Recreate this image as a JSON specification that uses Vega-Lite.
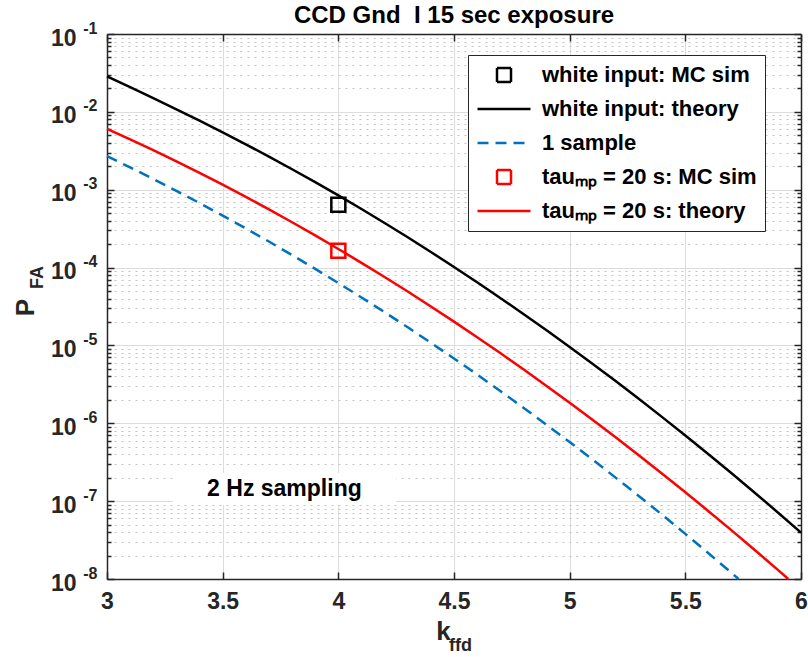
{
  "$schema": "https://vega.github.io/schema/vega-lite/v6.json",
  "width": 694,
  "height": 545,
  "autosize": {"type": "none"},
  "padding": {"left": 107, "top": 34, "right": 7, "bottom": 78},
  "background": "white",
  "config": {
    "view": {"stroke": null},
    "font": "Liberation Sans",
    "axis": {"labelFont": "Liberation Sans", "titleFont": "Liberation Sans", "domainColor": "#262626", "domainWidth": 1.5, "tickColor": "#262626", "tickWidth": 1.5}
  },
  "title": {"text": "CCD Gnd \u00a0I 15 sec exposure", "font": "Liberation Sans", "fontSize": 24, "fontWeight": "bold", "color": "black", "offset": -8, "anchor": "middle"},
  "datasets": {
    "curves": [
      {"k": 3.0, "p": 2.85e-2, "s": "white input: theory"},
      {"k": 3.1, "p": 2.08e-2, "s": "white input: theory"},
      {"k": 3.2, "p": 1.50e-2, "s": "white input: theory"},
      {"k": 3.3, "p": 1.08e-2, "s": "white input: theory"},
      {"k": 3.4, "p": 7.72e-3, "s": "white input: theory"},
      {"k": 3.5, "p": 5.46e-3, "s": "white input: theory"},
      {"k": 3.6, "p": 3.83e-3, "s": "white input: theory"},
      {"k": 3.7, "p": 2.66e-3, "s": "white input: theory"},
      {"k": 3.8, "p": 1.832e-3, "s": "white input: theory"},
      {"k": 3.9, "p": 1.250e-3, "s": "white input: theory"},
      {"k": 4.0, "p": 8.45e-4, "s": "white input: theory"},
      {"k": 4.1, "p": 5.65e-4, "s": "white input: theory"},
      {"k": 4.2, "p": 3.74e-4, "s": "white input: theory"},
      {"k": 4.3, "p": 2.45e-4, "s": "white input: theory"},
      {"k": 4.4, "p": 1.585e-4, "s": "white input: theory"},
      {"k": 4.5, "p": 1.019e-4, "s": "white input: theory"},
      {"k": 4.6, "p": 6.49e-5, "s": "white input: theory"},
      {"k": 4.7, "p": 4.07e-5, "s": "white input: theory"},
      {"k": 4.8, "p": 2.54e-5, "s": "white input: theory"},
      {"k": 4.9, "p": 1.563e-5, "s": "white input: theory"},
      {"k": 5.0, "p": 9.55e-6, "s": "white input: theory"},
      {"k": 5.1, "p": 5.77e-6, "s": "white input: theory"},
      {"k": 5.2, "p": 3.46e-6, "s": "white input: theory"},
      {"k": 5.3, "p": 2.05e-6, "s": "white input: theory"},
      {"k": 5.4, "p": 1.20e-6, "s": "white input: theory"},
      {"k": 5.5, "p": 6.97e-7, "s": "white input: theory"},
      {"k": 5.6, "p": 4.00e-7, "s": "white input: theory"},
      {"k": 5.7, "p": 2.28e-7, "s": "white input: theory"},
      {"k": 5.8, "p": 1.283e-7, "s": "white input: theory"},
      {"k": 5.9, "p": 7.16e-8, "s": "white input: theory"},
      {"k": 6.0, "p": 3.94e-8, "s": "white input: theory"},

      {"k": 3.0, "p": 2.70e-3, "s": "1 sample"},
      {"k": 3.1, "p": 1.935e-3, "s": "1 sample"},
      {"k": 3.2, "p": 1.374e-3, "s": "1 sample"},
      {"k": 3.3, "p": 9.67e-4, "s": "1 sample"},
      {"k": 3.4, "p": 6.74e-4, "s": "1 sample"},
      {"k": 3.5, "p": 4.65e-4, "s": "1 sample"},
      {"k": 3.6, "p": 3.18e-4, "s": "1 sample"},
      {"k": 3.7, "p": 2.16e-4, "s": "1 sample"},
      {"k": 3.8, "p": 1.447e-4, "s": "1 sample"},
      {"k": 3.9, "p": 9.62e-5, "s": "1 sample"},
      {"k": 4.0, "p": 6.33e-5, "s": "1 sample"},
      {"k": 4.1, "p": 4.13e-5, "s": "1 sample"},
      {"k": 4.2, "p": 2.67e-5, "s": "1 sample"},
      {"k": 4.3, "p": 1.708e-5, "s": "1 sample"},
      {"k": 4.4, "p": 1.082e-5, "s": "1 sample"},
      {"k": 4.5, "p": 6.80e-6, "s": "1 sample"},
      {"k": 4.6, "p": 4.22e-6, "s": "1 sample"},
      {"k": 4.7, "p": 2.60e-6, "s": "1 sample"},
      {"k": 4.8, "p": 1.587e-6, "s": "1 sample"},
      {"k": 4.9, "p": 9.58e-7, "s": "1 sample"},
      {"k": 5.0, "p": 5.73e-7, "s": "1 sample"},
      {"k": 5.1, "p": 3.40e-7, "s": "1 sample"},
      {"k": 5.2, "p": 1.99e-7, "s": "1 sample"},
      {"k": 5.3, "p": 1.158e-7, "s": "1 sample"},
      {"k": 5.4, "p": 6.67e-8, "s": "1 sample"},
      {"k": 5.5, "p": 3.80e-8, "s": "1 sample"},
      {"k": 5.6, "p": 2.14e-8, "s": "1 sample"},
      {"k": 5.7, "p": 1.198e-8, "s": "1 sample"},
      {"k": 5.73, "p": 1.0e-8, "s": "1 sample"},

      {"k": 3.0, "p": 6.04e-3, "s": "tauₘₚ = 20 s: theory"},
      {"k": 3.1, "p": 4.44e-3, "s": "tauₘₚ = 20 s: theory"},
      {"k": 3.2, "p": 3.22e-3, "s": "tauₘₚ = 20 s: theory"},
      {"k": 3.3, "p": 2.31e-3, "s": "tauₘₚ = 20 s: theory"},
      {"k": 3.4, "p": 1.648e-3, "s": "tauₘₚ = 20 s: theory"},
      {"k": 3.5, "p": 1.161e-3, "s": "tauₘₚ = 20 s: theory"},
      {"k": 3.6, "p": 8.09e-4, "s": "tauₘₚ = 20 s: theory"},
      {"k": 3.7, "p": 5.60e-4, "s": "tauₘₚ = 20 s: theory"},
      {"k": 3.8, "p": 3.82e-4, "s": "tauₘₚ = 20 s: theory"},
      {"k": 3.9, "p": 2.59e-4, "s": "tauₘₚ = 20 s: theory"},
      {"k": 4.0, "p": 1.734e-4, "s": "tauₘₚ = 20 s: theory"},
      {"k": 4.1, "p": 1.151e-4, "s": "tauₘₚ = 20 s: theory"},
      {"k": 4.2, "p": 7.57e-5, "s": "tauₘₚ = 20 s: theory"},
      {"k": 4.3, "p": 4.92e-5, "s": "tauₘₚ = 20 s: theory"},
      {"k": 4.4, "p": 3.16e-5, "s": "tauₘₚ = 20 s: theory"},
      {"k": 4.5, "p": 2.02e-5, "s": "tauₘₚ = 20 s: theory"},
      {"k": 4.6, "p": 1.276e-5, "s": "tauₘₚ = 20 s: theory"},
      {"k": 4.7, "p": 7.98e-6, "s": "tauₘₚ = 20 s: theory"},
      {"k": 4.8, "p": 4.93e-6, "s": "tauₘₚ = 20 s: theory"},
      {"k": 4.9, "p": 3.02e-6, "s": "tauₘₚ = 20 s: theory"},
      {"k": 5.0, "p": 1.832e-6, "s": "tauₘₚ = 20 s: theory"},
      {"k": 5.1, "p": 1.102e-6, "s": "tauₘₚ = 20 s: theory"},
      {"k": 5.2, "p": 6.56e-7, "s": "tauₘₚ = 20 s: theory"},
      {"k": 5.3, "p": 3.86e-7, "s": "tauₘₚ = 20 s: theory"},
      {"k": 5.4, "p": 2.25e-7, "s": "tauₘₚ = 20 s: theory"},
      {"k": 5.5, "p": 1.300e-7, "s": "tauₘₚ = 20 s: theory"},
      {"k": 5.6, "p": 7.43e-8, "s": "tauₘₚ = 20 s: theory"},
      {"k": 5.7, "p": 4.21e-8, "s": "tauₘₚ = 20 s: theory"},
      {"k": 5.8, "p": 2.36e-8, "s": "tauₘₚ = 20 s: theory"},
      {"k": 5.9, "p": 1.309e-8, "s": "tauₘₚ = 20 s: theory"},
      {"k": 5.945, "p": 1.0e-8, "s": "tauₘₚ = 20 s: theory"},

      {"k": 4.0, "p": 6.4e-4, "s": "white input: MC sim"},
      {"k": 4.0, "p": 1.65e-4, "s": "tauₘₚ = 20 s: MC sim"}
    ],
    "notes": [
      {"k": 3.767, "p": 1.43e-7, "label": "2 Hz sampling"}
    ]
  },
  "resolve": {"axis": {"x": "independent", "y": "independent"}},
  "layer": [
    {
      "data": {"name": "curves"},
      "transform": [{"filter": {"field": "s", "oneOf": ["white input: theory", "tauₘₚ = 20 s: theory"]}}],
      "mark": {"type": "line", "strokeWidth": 2.5},
      "encoding": {
        "x": {"field": "k", "type": "quantitative", "scale": {"domain": [3, 6], "nice": false, "zero": false},
          "axis": {"orient": "bottom", "values": [3, 3.5, 4, 4.5, 5, 5.5, 6], "format": "~g", "labelFontSize": 23, "labelFontWeight": "bold", "labelColor": "#262626", "labelPadding": 18, "labelFlush": false, "tickSize": -7, "grid": true, "gridColor": "#dcdcdc", "gridWidth": 1,
            "title": "k", "titleFontSize": 26, "titleFontWeight": "bold", "titleColor": "#262626", "titleX": 336, "titleY": 52, "titleAlign": "center", "titleBaseline": "middle"}},
        "y": {"field": "p", "type": "quantitative", "scale": {"type": "log", "domain": [1e-8, 0.1], "nice": false},
          "axis": {"orient": "left", "values": [1e-8, 1e-7, 1e-6, 1e-5, 1e-4, 1e-3, 1e-2, 1e-1], "labelExpr": "'10'", "labelFontSize": 23, "labelFontWeight": "bold", "labelColor": "#262626", "labelPadding": 38, "labelOffset": 4, "labelFlush": false, "labelOverlap": false, "tickSize": -7, "grid": true, "gridColor": "#dcdcdc", "gridWidth": 1,
            "title": "P", "titleFontSize": 26, "titleFontWeight": "bold", "titleColor": "#262626", "titleAngle": 270, "titleX": -82, "titleY": 273, "titleAlign": "center", "titleBaseline": "middle"}},
        "color": {"field": "s", "type": "nominal",
          "scale": {"domain": ["white input: MC sim", "white input: theory", "1 sample", "tauₘₚ = 20 s: MC sim", "tauₘₚ = 20 s: theory"], "range": ["#000000", "#000000", "#0072BD", "#FF0000", "#FF0000"]},
          "legend": {"orient": "none", "legendX": 361, "legendY": 21, "title": null, "direction": "vertical",
            "fillColor": "white", "strokeColor": "#262626", "padding": 8, "rowPadding": 10, "clipHeight": 24,
            "symbolStrokeWidth": 2.5, "symbolOffset": 0, "symbolFillColor": "transparent", "labelOffset": 10,
            "labelFont": "Liberation Sans", "labelFontWeight": "bold", "labelFontSize": 22, "labelColor": "black", "labelLimit": 400}
        }
      }
    },
    {
      "data": {"name": "curves"},
      "transform": [{"filter": {"field": "s", "equal": "1 sample"}}],
      "mark": {"type": "line", "strokeWidth": 2.5},
      "encoding": {
        "x": {"field": "k", "type": "quantitative", "scale": {"domain": [3, 6], "nice": false, "zero": false},
          "axis": {"orient": "top", "values": [3, 3.5, 4, 4.5, 5, 5.5, 6], "labels": false, "tickSize": -7, "grid": false, "domain": true, "title": null}},
        "y": {"field": "p", "type": "quantitative", "scale": {"type": "log", "domain": [1e-8, 0.1], "nice": false},
          "axis": {"orient": "left", "values": [2e-8, 3e-8, 4e-8, 5e-8, 6e-8, 7e-8, 8e-8, 9e-8, 2e-7, 3e-7, 4e-7, 5e-7, 6e-7, 7e-7, 8e-7, 9e-7, 2e-6, 3e-6, 4e-6, 5e-6, 6e-6, 7e-6, 8e-6, 9e-6, 2e-5, 3e-5, 4e-5, 5e-5, 6e-5, 7e-5, 8e-5, 9e-5, 2e-4, 3e-4, 4e-4, 5e-4, 6e-4, 7e-4, 8e-4, 9e-4, 2e-3, 3e-3, 4e-3, 5e-3, 6e-3, 7e-3, 8e-3, 9e-3, 2e-2, 3e-2, 4e-2, 5e-2, 6e-2, 7e-2, 8e-2, 9e-2],
            "labels": false, "domain": false, "tickSize": -4, "grid": true, "gridColor": "#c4c4c4", "gridDash": [2, 5], "gridWidth": 1.2,
            "title": "FA", "titleFontSize": 18, "titleFontWeight": "bold", "titleColor": "#262626", "titleAngle": 270, "titleX": -70, "titleY": 243, "titleAlign": "center", "titleBaseline": "middle"}},
        "color": {"field": "s", "type": "nominal"},
        "strokeDash": {"field": "s", "type": "nominal",
          "scale": {"domain": ["white input: MC sim", "white input: theory", "1 sample", "tauₘₚ = 20 s: MC sim", "tauₘₚ = 20 s: theory"], "range": [[1, 0], [1, 0], [11, 7], [1, 0], [1, 0]]}}
      }
    },
    {
      "data": {"name": "curves"},
      "transform": [{"filter": {"field": "s", "oneOf": ["white input: MC sim", "tauₘₚ = 20 s: MC sim"]}}],
      "mark": {"type": "point", "filled": false, "strokeWidth": 2.5, "opacity": 1},
      "encoding": {
        "x": {"field": "k", "type": "quantitative", "scale": {"domain": [3, 6], "nice": false, "zero": false},
          "axis": {"orient": "bottom", "labels": false, "ticks": false, "grid": false, "domain": false,
            "title": "ffd", "titleFontSize": 18, "titleFontWeight": "bold", "titleColor": "#262626", "titleX": 353, "titleY": 66, "titleAlign": "center", "titleBaseline": "middle"}},
        "y": {"field": "p", "type": "quantitative", "scale": {"type": "log", "domain": [1e-8, 0.1], "nice": false},
          "axis": {"orient": "right", "values": [1e-8, 1e-7, 1e-6, 1e-5, 1e-4, 1e-3, 1e-2, 1e-1], "labels": false, "tickSize": -7, "grid": false, "domain": true, "title": null}},
        "color": {"field": "s", "type": "nominal"},
        "shape": {"field": "s", "type": "nominal",
          "scale": {"domain": ["white input: MC sim", "white input: theory", "1 sample", "tauₘₚ = 20 s: MC sim", "tauₘₚ = 20 s: theory"], "range": ["square", "stroke", "stroke", "square", "stroke"]}},
        "size": {"field": "s", "type": "nominal",
          "scale": {"type": "ordinal", "domain": ["white input: MC sim", "white input: theory", "1 sample", "tauₘₚ = 20 s: MC sim", "tauₘₚ = 20 s: theory"], "range": [196, 2809, 2809, 196, 2809]}}
      }
    },
    {
      "data": {"name": "notes"},
      "mark": {"type": "point", "shape": "M-1,-0.1435H1V0.1435H-1Z", "size": 49729, "filled": true, "fill": "white", "strokeWidth": 0, "opacity": 1},
      "encoding": {
        "x": {"field": "k", "type": "quantitative", "scale": {"domain": [3, 6], "nice": false, "zero": false}, "axis": null},
        "y": {"field": "p", "type": "quantitative", "scale": {"type": "log", "domain": [1e-8, 0.1], "nice": false},
          "axis": {"orient": "right", "values": [2e-8, 3e-8, 4e-8, 5e-8, 6e-8, 7e-8, 8e-8, 9e-8, 2e-7, 3e-7, 4e-7, 5e-7, 6e-7, 7e-7, 8e-7, 9e-7, 2e-6, 3e-6, 4e-6, 5e-6, 6e-6, 7e-6, 8e-6, 9e-6, 2e-5, 3e-5, 4e-5, 5e-5, 6e-5, 7e-5, 8e-5, 9e-5, 2e-4, 3e-4, 4e-4, 5e-4, 6e-4, 7e-4, 8e-4, 9e-4, 2e-3, 3e-3, 4e-3, 5e-3, 6e-3, 7e-3, 8e-3, 9e-3, 2e-2, 3e-2, 4e-2, 5e-2, 6e-2, 7e-2, 8e-2, 9e-2],
            "labels": false, "domain": false, "tickSize": -4, "grid": false, "title": null}}
      }
    },
    {
      "data": {"name": "notes"},
      "mark": {"type": "text", "font": "Liberation Sans", "fontSize": 23, "fontWeight": "bold", "color": "black", "align": "center", "baseline": "middle"},
      "encoding": {
        "x": {"field": "k", "type": "quantitative", "scale": {"domain": [3, 6], "nice": false, "zero": false}, "axis": null},
        "y": {"field": "p", "type": "quantitative", "scale": {"type": "log", "domain": [1e-8, 0.1], "nice": false},
          "axis": {"orient": "left", "values": [1e-8, 1e-7, 1e-6, 1e-5, 1e-4, 1e-3, 1e-2, 1e-1], "labelExpr": "'-' + round(-log(datum.value)/LN10)", "labelFontSize": 16, "labelFontWeight": "bold", "labelColor": "#262626", "labelPadding": 10, "labelOffset": -6, "labelFlush": false, "labelOverlap": false, "ticks": false, "domain": false, "grid": false, "title": null}},
        "text": {"field": "label", "type": "nominal"}
      }
    }
  ]
}
